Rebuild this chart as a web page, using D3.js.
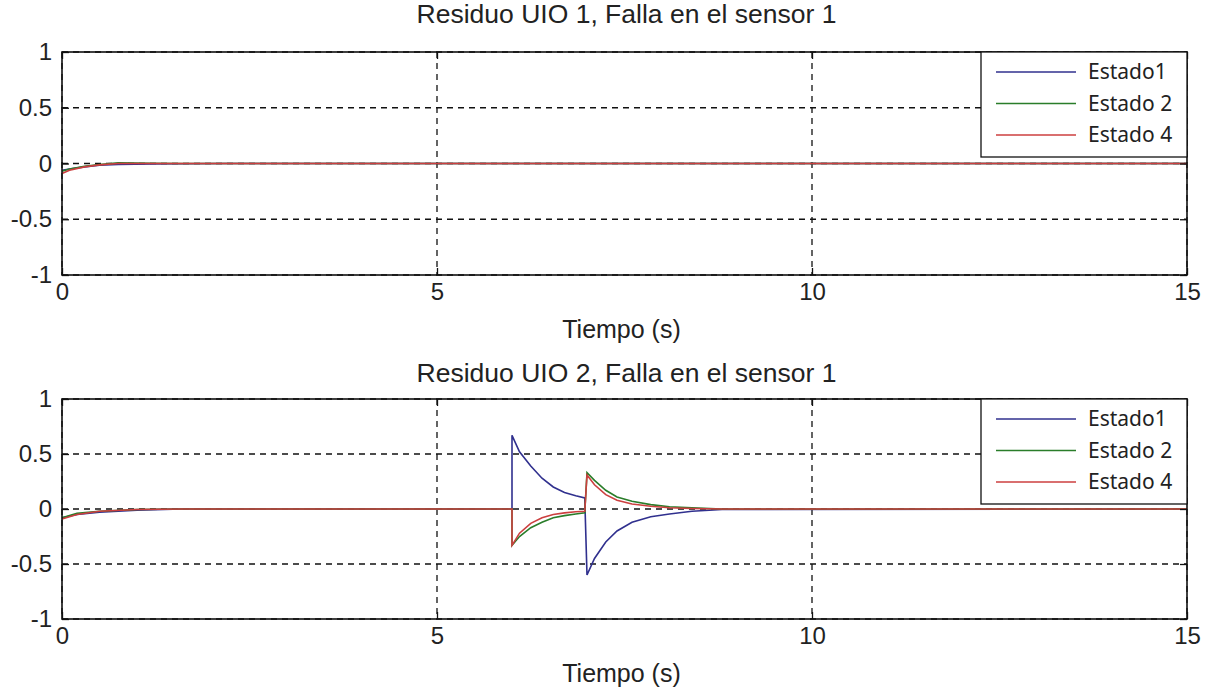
<!DOCTYPE html>
<html>
<head>
<meta charset="utf-8">
<title>Residuos UIO</title>
<script src="https://cdn.jsdelivr.net/npm/d3@7"></script>
<style>
  body { margin: 0; background: #fff; }
  .axis text { font-family: "Liberation Sans", Arial, sans-serif; font-size: 24px; fill: #222; }
  .axis path { display: none; }
  .axis line { stroke: #111; stroke-width: 1.3; }
</style>
</head>
<body>
<script>
// datos
const xTicks = [0, 5, 10, 15];
const yTicks = [-1, -0.5, 0, 0.5, 1];
const leyenda = ["Estado1", "Estado 2", "Estado 4"];
const colores = ["#30308e", "#2a7d2a", "#cc3f3f"];
const titulos = ["Residuo UIO 1, Falla en el sensor 1", "Residuo UIO 2, Falla en el sensor 1"];

// UIO 1
const tiempo1 = [0, 0.1, 0.3, 0.5, 0.75, 1.2, 1.6, 2.2, 15];
const est1_uio1 = [-0.06, -0.05, -0.03, -0.015, -0.008, -0.004, -0.002, 0, 0];
const est2_uio1 = [-0.07, -0.05, -0.025, -0.01, 0.006, 0.002, 0, 0, 0];
const est4_uio1 = [-0.09, -0.06, -0.03, -0.012, 0, 0, 0, 0, 0];

// UIO 2
const tiempo2 = [0, 0.2, 0.5, 1.0, 1.6, 6.0, 6.0, 6.1, 6.25, 6.4, 6.55, 6.7, 6.85, 6.97, 7.0, 7.1, 7.25, 7.4, 7.6, 7.85, 8.1, 8.4, 8.8, 15];
const est1_uio2 = [-0.08, -0.05, -0.03, -0.01, 0, 0, 0.67, 0.52, 0.39, 0.28, 0.2, 0.15, 0.12, 0.1, -0.6, -0.45, -0.3, -0.2, -0.12, -0.07, -0.045, -0.02, -0.005, 0];
const est2_uio2 = [-0.08, -0.04, -0.02, -0.005, 0, 0, -0.33, -0.25, -0.17, -0.12, -0.08, -0.06, -0.045, -0.035, 0.33, 0.26, 0.17, 0.11, 0.07, 0.04, 0.02, 0.01, 0, 0];
const est4_uio2 = [-0.09, -0.05, -0.02, -0.005, 0, 0, -0.33, -0.22, -0.13, -0.08, -0.05, -0.035, -0.025, -0.02, 0.31, 0.22, 0.13, 0.08, 0.045, 0.025, 0.012, 0.005, 0, 0];

const w = 1210, h = 696;
const left = 62, right = 1187;

const svg = d3.select("body").append("svg")
  .attr("width", w)
  .attr("height", h);

function panel(top, bottom, tituloY, titulo, tiempo, series) {
  const g = svg.append("g");
  const x = d3.scaleLinear().domain([0, 15]).range([left, right]);
  const y = d3.scaleLinear().domain([-1, 1]).range([bottom, top]);

  // grid punteado
  g.selectAll(".gx").data(xTicks).enter().append("line")
    .attr("x1", d => x(d)).attr("x2", d => x(d))
    .attr("y1", top).attr("y2", bottom)
    .attr("stroke", "#111").attr("stroke-width", 1.3).attr("stroke-dasharray", "6,5");
  g.selectAll(".gy").data(yTicks).enter().append("line")
    .attr("x1", left).attr("x2", right)
    .attr("y1", d => y(d)).attr("y2", d => y(d))
    .attr("stroke", "#111").attr("stroke-width", 1.3).attr("stroke-dasharray", "6,5");

  const line = d3.line()
    .x((d, i) => x(tiempo[i]))
    .y(d => y(d));

  series.forEach(function(s, k) {
    g.append("path")
      .datum(s)
      .attr("d", line)
      .attr("fill", "none")
      .attr("stroke", colores[k])
      .attr("stroke-width", 1.6);
  });

  // ejes
  g.append("g").attr("class", "axis")
    .attr("transform", "translate(0," + bottom + ")")
    .call(d3.axisBottom(x).tickValues(xTicks).tickSize(-7).tickPadding(8).tickFormat(d3.format("d")));
  g.append("g").attr("class", "axis")
    .attr("transform", "translate(0," + top + ")")
    .call(d3.axisTop(x).tickValues(xTicks).tickSize(-7).tickFormat(""));
  g.append("g").attr("class", "axis")
    .attr("transform", "translate(" + left + ",0)")
    .call(d3.axisLeft(y).tickValues(yTicks).tickSize(-7).tickPadding(10).tickFormat(d => d));
  g.append("g").attr("class", "axis")
    .attr("transform", "translate(" + right + ",0)")
    .call(d3.axisRight(y).tickValues(yTicks).tickSize(-7).tickFormat(""));

  g.append("rect")
    .attr("x", left).attr("y", top)
    .attr("width", right - left).attr("height", bottom - top)
    .attr("fill", "none").attr("stroke", "#111").attr("stroke-width", 1.6);

  // titulo y etiqueta
  g.append("text")
    .attr("x", (left + right) / 2 + 2).attr("y", tituloY)
    .attr("text-anchor", "middle")
    .attr("font-family", "Liberation Sans, Arial, sans-serif")
    .attr("font-size", "26.5px").attr("fill", "#222")
    .text(titulo);
  g.append("text")
    .attr("x", (left + right) / 2 - 3).attr("y", bottom + 63)
    .attr("text-anchor", "middle")
    .attr("font-family", "Liberation Sans, Arial, sans-serif")
    .attr("font-size", "25px").attr("fill", "#222")
    .text("Tiempo (s)");

  // leyenda
  const lg = g.append("g").attr("transform", "translate(981," + top + ")");
  lg.append("rect")
    .attr("width", right - 981).attr("height", 105)
    .attr("fill", "#fff").attr("stroke", "#111").attr("stroke-width", 1.3);
  leyenda.forEach(function(nombre, k) {
    const yy = 20 + k * 31.5;
    lg.append("line")
      .attr("x1", 15).attr("x2", 95)
      .attr("y1", yy).attr("y2", yy)
      .attr("stroke", colores[k]).attr("stroke-width", 1.6);
    lg.append("text")
      .attr("x", 107).attr("y", yy + 7)
      .attr("font-family", "Noto Sans, DejaVu Sans, sans-serif")
      .attr("font-size", "21px").attr("fill", "#222")
      .text(nombre);
  });
}

panel(52, 275, 23, titulos[0], tiempo1, [est1_uio1, est2_uio1, est4_uio1]);
panel(399, 619, 382, titulos[1], tiempo2, [est1_uio2, est2_uio2, est4_uio2]);
</script>
</body>
</html>
